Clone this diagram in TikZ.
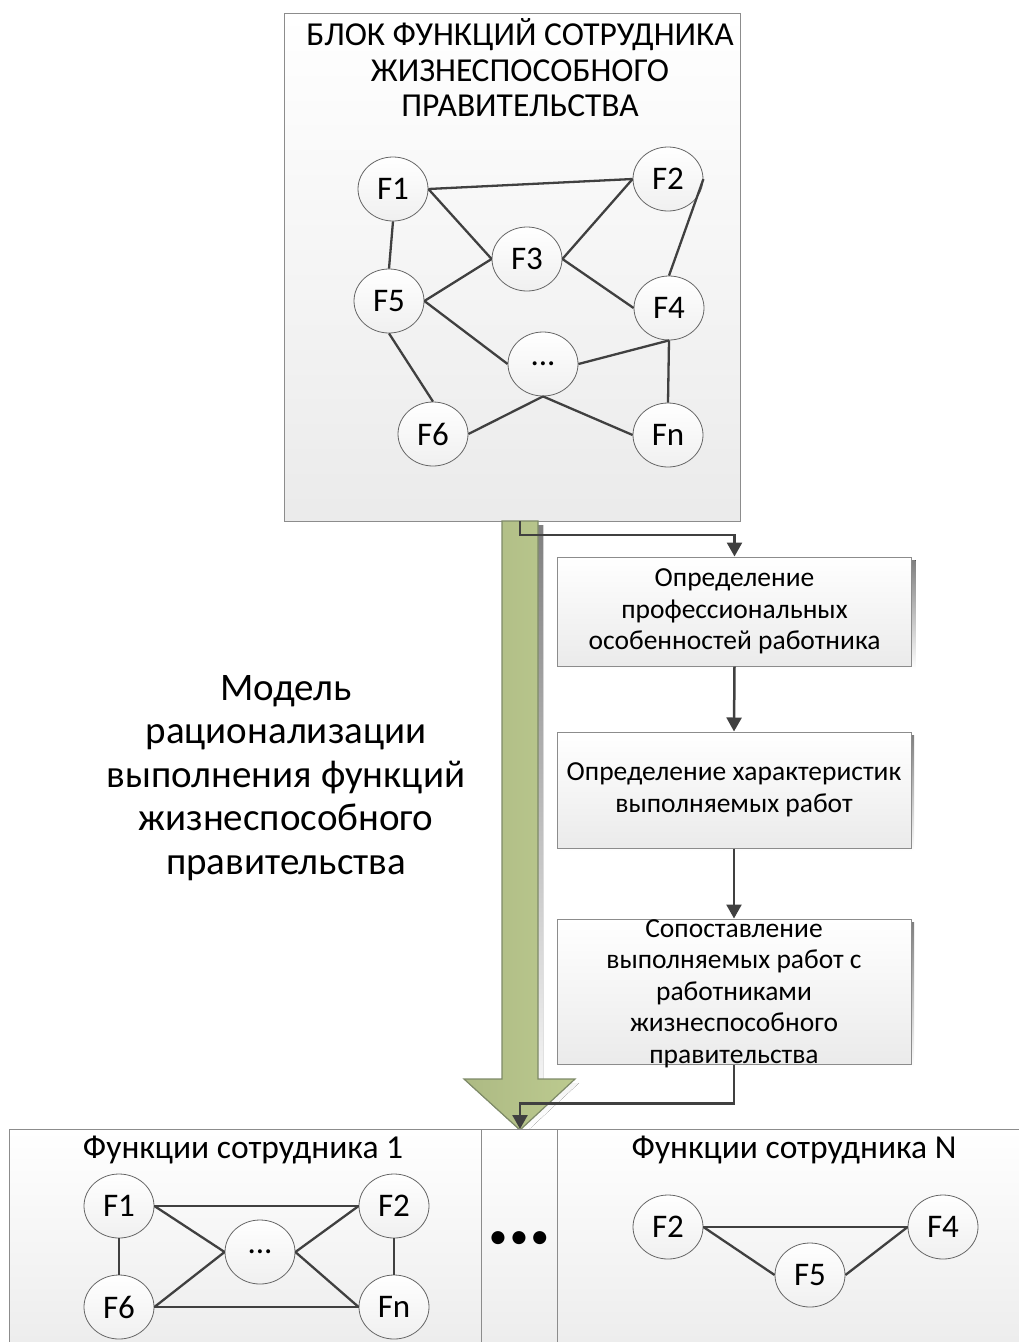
\documentclass[tikz,border=0pt]{standalone}
\usepackage{fontspec}
\setmainfont{Carlito}
\usetikzlibrary{arrows.meta,shapes.geometric}
\definecolor{edge}{HTML}{404040}
\definecolor{boxline}{HTML}{8C8C8C}
\definecolor{olivefill}{HTML}{BCCA8F}
\definecolor{oliveline}{HTML}{7E8A68}
\definecolor{shade}{HTML}{E4E4E4}

\begin{document}
\begin{tikzpicture}[x=1pt,y=-1pt,
  panel/.style={draw=boxline, line width=1pt, shading=axis, top color=white, bottom color=black!8, inner sep=0pt},
  procbox/.style={panel, minimum width=354pt, inner sep=0pt},
  ptext/.style={align=center, font=\fontsize{27.5}{31.5}\selectfont},
  fn/.style={ellipse, draw=black!60, line width=0.8pt, shading=axis, top color=white, bottom color=black!6,
             minimum width=70pt, minimum height=64pt, inner sep=0pt, font=\fontsize{33}{34}\selectfont},
  link/.style={draw=edge, line width=2.3pt},
  thinlink/.style={draw=edge, line width=1.3pt},
  flow/.style={draw=edge, line width=2.5pt, -{Triangle[length=14pt,width=15pt]}},
  ttl/.style={align=center, font=\fontsize{33.5}{35.5}\selectfont},
  subttl/.style={font=\fontsize{33.5}{36}\selectfont}
]
\useasboundingbox (0,0) rectangle (1019,1342);
\clip (0,0) rectangle (1019,1342);

% ---- upper block with the function graph ----
\node[panel, minimum width=456pt, minimum height=508pt] (blk) at (512,267) {};
\node[ttl] (blktitle) at (520,68) {БЛОК ФУНКЦИЙ СОТРУДНИКА\\ЖИЗНЕСПОСОБНОГО\\ПРАВИТЕЛЬСТВА};

\node[fn] (a1) at (393,189) {F1};
\node[fn] (a2) at (668,179) {F2};
\node[fn] (a3) at (527,259) {F3};
\node[fn] (a5) at (389,301) {F5};
\node[fn] (a4) at (669,308) {F4};
\node[fn] (ad) at (543,364) {...};
\node[fn] (a6) at (433,434) {F6};
\node[fn] (an) at (668,435) {Fn};

\draw[link] (a1.east) -- (a2.west);
\draw[link] (a1.east) -- (a3.west);
\draw[link] (a1.south) -- (a5.north);
\draw[link] (a2.west) -- (a3.east);
\draw[link] (a2.east) -- (a4.north);
\draw[link] (a3.west) -- (a5.east);
\draw[link] (a3.east) -- (a4.west);
\draw[link] (a5.east) -- (ad.west);
\draw[link] (a5.south) -- (a6.north);
\draw[link] (ad.east) -- (a4.south);
\draw[link] (a4.south) -- (an.north);
\draw[link] (ad.south) -- (a6.east);
\draw[link] (ad.south) -- (an.west);

% ---- wide green arrow ----
\fill[shade] (506,525) -- (543,525) -- (543,1083) -- (579,1083) -- (524,1134) -- (468,1083) -- (506,1083) -- cycle;
\draw[oliveline, line width=1.2pt, shading=axis, shading angle=90,
      left color=olivefill!92!black, middle color=olivefill!85!white, right color=olivefill]
  (502,521) -- (538,521) -- (538,1079) -- (575,1079) -- (520,1130) -- (464,1079) -- (502,1079) -- cycle;

% ---- process steps ----
\fill[shade] (560.5,560) rectangle (915.5,669);
\node[procbox, minimum height=109pt] (p1) at (734.5,611.5) {};
\node[ptext] (t1) at (p1.center) {Определение\\профессиональных\\особенностей работника};

\fill[shade] (560,735) rectangle (914,851);
\node[procbox, minimum height=116pt] (p2) at (734,790) {};
\node[ptext] (t2) at (p2.center) {Определение характеристик\\выполняемых работ};

\fill[shade] (560,922) rectangle (914,1067);
\node[procbox, minimum height=145pt] (p3) at (734,991.5) {};
\node[ptext] (t3) at (734,993.5) {Сопоставление\\выполняемых работ с\\работниками\\жизнеспособного\\правительства};

\coordinate (out1) at (520,521);
\coordinate (in1) at (520,1129);
\draw[flow] (out1) -- ++(0,14) -| (p1.north);
\draw[flow] (p1.south) -- (p2.north);
\draw[flow] (p2.south) -- (p3.north);
\draw[flow] (p3.south) -- ++(0,39) -| (in1);

% ---- model caption ----
\node[align=center, font=\fontsize{39}{43.5}\selectfont] (model) at (286,778)
  {Модель\\рационализации\\выполнения функций\\жизнеспособного\\правительства};

% ---- lower row of employee panels ----
\node[panel, minimum width=472pt, minimum height=240pt, anchor=north west] (e1) at (9,1129) {};
\node[panel, minimum width=76pt, minimum height=240pt, anchor=north west] (em) at (481,1129) {};
\node[panel, minimum width=480pt, minimum height=240pt, anchor=north west] (en) at (557,1129) {};

\node[subttl] (e1t) at (243,1150) {Функции сотрудника 1};
\node[subttl] (ent) at (794,1150) {Функции сотрудника N};
\node[font=\fontsize{37}{37}\selectfont] (gap) at (519,1240) {•\kern2.5pt•\kern2.5pt•};

\node[fn] (b1) at (119,1206) {F1};
\node[fn] (b2) at (394,1206) {F2};
\node[fn] (bd) at (260,1252) {...};
\node[fn] (b6) at (119,1307) {F6};
\node[fn] (bn) at (394,1307) {Fn};
\draw[link] (b1.east) -- (b2.west);
\draw[link] (b1.east) -- (bd.west);
\draw[link] (b2.west) -- (bd.east);
\draw[link] (b6.east) -- (bd.west);
\draw[link] (bn.west) -- (bd.east);
\draw[link] (b6.east) -- (bn.west);
\draw[thinlink] (b1.south) -- (b6.north);
\draw[thinlink] (b2.south) -- (bn.north);

\node[fn] (c2) at (668,1227) {F2};
\node[fn] (c4) at (943,1227) {F4};
\node[fn] (c5) at (810,1275) {F5};
\draw[link] (c2.east) -- (c4.west);
\draw[link] (c2.east) -- (c5.west);
\draw[link] (c5.east) -- (c4.west);
\end{tikzpicture}
\end{document}
